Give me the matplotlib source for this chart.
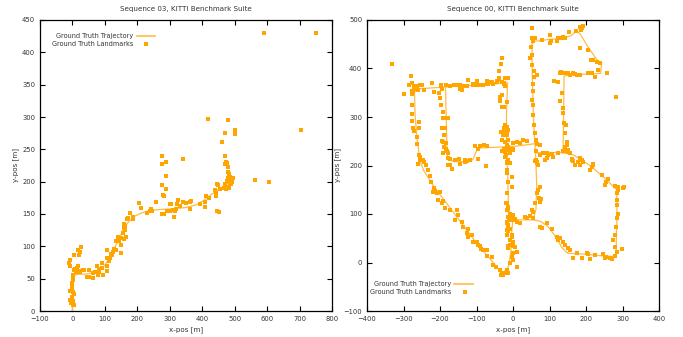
import numpy as np
import matplotlib
matplotlib.use('Agg')
import matplotlib.pyplot as plt

# --- Sequence 03: ground truth trajectory and landmarks ---
traj03 = [(0, 0), (1, 20), (2, 40), (3, 52), (8, 56), (20, 57), (40, 57), (60, 59), (80, 63),
          (95, 68), (110, 78), (125, 92), (140, 108), (152, 121), (162, 131), (175, 139),
          (190, 146), (210, 151), (235, 155), (270, 157), (310, 158), (350, 160), (380, 164),
          (405, 171), (430, 181), (455, 189), (475, 196), (490, 201)]

lm03 = [(590, 430), (751, 430), (418, 297), (478, 295), (704, 280), (500, 280), (469, 276),
        (500, 273), (460, 262), (275, 240), (471, 240), (341, 235), (287, 230), (277, 228),
        (474, 231), (471, 228), (478, 223),
        (287, 208), (277, 195), (287, 188), (279, 179), (282, 178), (564, 203), (606, 200),
        (476, 229), (478, 222), (480, 215), (483, 212), (487, 207), (490, 204), (492, 200),
        (485, 198), (480, 205), (475, 201), (470, 196), (476, 192), (488, 197), (494, 206),
        (484, 190), (472, 188), (466, 190), (455, 188), (449, 195),
        (446, 196), (438, 187), (442, 183), (442, 178), (411, 178), (422, 174), (408, 161),
        (408, 168), (394, 165), (451, 153), (446, 154),
        (365, 170), (361, 169), (350, 167), (340, 168), (325, 171), (322, 165), (330, 163),
        (318, 158), (362, 158), (304, 165), (300, 166), (291, 155), (300, 155), (309, 156),
        (316, 155), (313, 146), (282, 150), (276, 150), (256, 168), (246, 155), (242, 157),
        (240, 154), (230, 152), (210, 159), (205, 167),
        (188, 146), (186, 142), (176, 152), (172, 144), (167, 142), (160, 135), (162, 131),
        (158, 128), (163, 125), (157, 121), (165, 115), (160, 112), (151, 113), (140, 115),
        (143, 108), (135, 108), (150, 102), (149, 89), (133, 94), (128, 96), (125, 92),
        (105, 94), (118, 88), (116, 82), (108, 82), (113, 78), (122, 86),
        (92, 66), (90, 74), (105, 69), (108, 62), (95, 56), (82, 65), (75, 69), (69, 61),
        (62, 59), (50, 63), (46, 53), (51, 52), (63, 51), (78, 56), (82, 60), (36, 64),
        (31, 63), (24, 60), (14, 66), (17, 69), (8, 65), (4, 64), (20, 62), (12, 60),
        (26, 99), (18, 95), (23, 92), (21, 87), (5, 86), (-7, 79), (-10, 74), (-7, 70),
        (2, 51), (0, 44), (0, 41), (-2, 36), (2, 30), (4, 27), (-7, 31), (-8, 17), (2, 16),
        (2, 10), (5, 9), (-3, 12), (1, 56), (3, 48), (-1, 22)]

# --- Sequence 00: ground truth trajectory (pieces) and landmarks ---
traj00_pieces = [
    [(-15, 370), (-100, 366), (-180, 362), (-265, 358), (-270, 350), (-268, 300), (-262, 250),
     (-255, 210), (-245, 190), (-220, 160), (-180, 120), (-140, 80), (-100, 40), (-60, 5),
     (-35, -18), (-25, -20), (-12, -8), (-6, 20), (-4, 60), (0, 90)],
    [(-15, 370), (-18, 300), (-17, 240), (-14, 160), (-12, 110), (0, 90)],
    [(-185, 360), (-183, 300), (-181, 240), (-178, 212), (-160, 208), (-130, 208),
     (-110, 212), (-100, 230), (-90, 236), (-40, 238), (10, 240), (60, 245)],
    [(0, 90), (20, 88), (55, 88), (63, 110), (65, 160), (62, 220), (60, 245), (56, 300),
     (53, 380), (52, 450), (58, 456), (100, 460), (133, 462), (160, 468), (174, 478),
     (185, 470), (205, 445), (230, 418), (243, 412), (240, 390), (190, 388), (150, 386),
     (140, 384), (139, 330), (138, 270), (137, 226)],
    [(62, 226), (100, 227), (140, 226), (165, 222), (190, 210), (211, 200), (250, 175),
     (284, 150), (285, 100), (283, 40), (282, 12), (240, 14), (200, 17), (150, 19),
     (135, 30), (115, 55), (95, 75), (75, 85), (55, 88)],
]

lm00 = [(-331, 409), (-279, 384), (-300, 347),
        (-285, 367), (-278, 371), (-272, 363), (-264, 363), (-255, 365), (-249, 366),
        (-270, 357), (-259, 355), (-244, 356),
        (-276, 352), (-276, 347), (-276, 325), (-277, 306), (-276, 292), (-273, 277),
        (-271, 272), (-262, 258), (-258, 290), (-257, 278), (-262, 245), (-257, 222),
        (-255, 218), (-244, 208), (-278, 354), (-273, 351),
        (-223, 370), (-216, 352), (-197, 367), (-197, 363), (-195, 358), (-202, 349),
        (-200, 340), (-198, 325),
        (-191, 311), (-191, 297), (-184, 297), (-177, 297), (-186, 278), (-195, 278),
        (-191, 277), (-188, 263), (-191, 249), (-194, 251), (-183, 246), (-189, 239),
        (-183, 235), (-180, 229), (-177, 225), (-191, 225),
        (-184, 366), (-173, 363), (-163, 365), (-154, 366), (-145, 365), (-136, 363),
        (-145, 358), (-141, 355), (-122, 376), (-127, 363), (-110, 366), (-109, 369),
        (-100, 374), (-100, 366), (-90, 365), (-81, 367), (-72, 369), (-68, 369), (-65, 373),
        (-58, 373), (-54, 369), (-45, 373), (-37, 376), (-37, 380), (-31, 373), (-26, 369),
        (-33, 409), (-38, 394), (-13, 381), (-159, 367), (-99, 375), (-72, 374), (-45, 374),
        (-35, 342), (-36, 332), (-25, 321), (-31, 321), (-17, 280), (-25, 278), (-21, 270),
        (-17, 263), (-28, 263), (-13, 273),
        (-22, 249), (-17, 242), (-25, 235), (-13, 232), (-21, 228), (-8, 225), (-19, 222),
        (-13, 211), (-17, 208),
        (-104, 240), (-90, 240), (-79, 242), (-72, 240), (-95, 235),
        (-177, 216), (-173, 213), (-159, 211), (-147, 213), (-131, 211), (-127, 209),
        (-118, 212), (-95, 213),
        (51, 484), (56, 457), (51, 462), (60, 462), (80, 459), (101, 469), (103, 457),
        (101, 452), (120, 456), (124, 462), (133, 462), (138, 465), (142, 462), (153, 475),
        (172, 478), (184, 486), (188, 483), (185, 479), (193, 488), (184, 443),
        (206, 438), (215, 418), (220, 418), (229, 414), (237, 411), (234, 397), (225, 383),
        (216, 390), (206, 390), (184, 387), (175, 387), (170, 389), (164, 390), (155, 387),
        (150, 390), (141, 391), (129, 390), (131, 392), (113, 375), (124, 373), (133, 349),
        (130, 332), (138, 319), (138, 308), (140, 287), (145, 284), (143, 266), (147, 249),
        (147, 243), (142, 239), (152, 232), (155, 225), (258, 390), (282, 341),
        (48, 445), (51, 428), (47, 421), (51, 407), (58, 395), (67, 387), (58, 383),
        (56, 369), (56, 354), (53, 335), (54, 325), (56, 304), (58, 283), (60, 266),
        (63, 253), (67, 244), (74, 242),
        (-31, 421), (-22, 380), (-26, 370), (-22, 363), (-31, 346), (-17, 330),
        (-22, 284), (-26, 273), (-33, 270), (-17, 266), (-15, 253), (-31, 253),
        (1, 246), (10, 248), (19, 246), (28, 253), (37, 251), (-13, 239), (-8, 235),
        (1, 232), (-26, 232), (-31, 229), (-22, 218), (-8, 205), (1, 235),
        (63, 229), (74, 222), (63, 211), (65, 208), (92, 225), (97, 222), (106, 223),
        (110, 218), (124, 225), (138, 229), (147, 229), (152, 227), (161, 213), (165, 209),
        (184, 215), (188, 211), (193, 208), (220, 204), (92, 215), (83, 225),
        (-246, 211), (-237, 201), (-232, 191), (-227, 178), (-225, 167), (-216, 153),
        (-213, 148), (-220, 146), (-209, 143), (-200, 145), (-205, 128), (-191, 126),
        (-195, 122), (-186, 112), (-173, 108), (-154, 108), (-152, 98), (-159, 88),
        (-141, 84), (-136, 74), (-122, 70), (-125, 60), (-113, 57), (-122, 53), (-109, 43),
        (-98, 43), (-95, 36), (-90, 34), (-89, 27), (-72, 26), (-81, 26), (-70, 13),
        (-58, 12), (-55, -5), (-47, -10), (-36, -15), (-31, -22), (-28, -26), (-17, -15),
        (-13, -21), (-259, 204), (-256, 211),
        (-172, 201), (-177, 201), (-168, 193), (-145, 203), (-131, 208), (-74, 200),
        (-17, 191), (-17, 184), (-17, 143), (-17, 122), (-14, 112), (-17, 84), (-13, 77),
        (-17, 67), (-17, 57), (-13, 33),
        (-17, 205), (-15, 167), (-4, 177), (-4, 156), (-19, 122), (-13, 115), (-17, 108),
        (-8, 101), (1, 98), (-4, 94), (-15, 94), (-10, 88), (1, 88), (5, 89), (10, 84),
        (19, 82), (-17, 81), (-13, 74), (-15, 64), (-8, 70), (-4, 57), (-8, 46), (-13, 29),
        (0, 33), (5, 31), (10, 22), (0, 19), (-4, 12), (1, 5), (-8, -2), (10, -10),
        (-17, -19), (-26, -22), (-34, -26), (-4, 53), (1, 43), (-8, 36),
        (33, 94), (47, 96), (37, 91), (51, 108), (56, 105), (56, 91), (60, 122), (65, 143),
        (69, 150), (74, 156), (72, 134), (76, 130), (74, 125), (65, 205), (69, 201),
        (60, 210), (88, 211),
        (92, 81), (74, 74), (79, 72), (106, 69), (120, 53), (124, 46), (129, 50), (138, 43),
        (142, 36), (152, 29), (156, 26), (165, 9), (174, 19), (188, 9), (202, 19), (206, 18),
        (211, 7), (225, 16), (247, 18), (252, 9), (256, 11), (266, 9), (270, 7), (280, 13),
        (298, 27), (284, 22), (280, 31), (275, 46), (280, 57), (282, 74), (286, 91),
        (288, 101), (286, 119), (284, 129), (286, 143), (288, 150), (304, 156), (300, 153),
        (288, 156), (280, 157), (261, 172), (243, 180), (252, 160), (256, 165), (216, 196),
        (211, 191), (218, 201), (184, 201), (193, 208), (161, 211), (179, 208), (170, 201)]

titles = ['Sequence 03, KITTI Benchmark Suite', 'Sequence 00, KITTI Benchmark Suite']
xlims = [(-100, 800), (-400, 400)]
ylims = [(0, 450), (-100, 500)]
xticks = [np.arange(-100, 801, 100), np.arange(-400, 401, 100)]
yticks = [np.arange(0, 451, 50), np.arange(-100, 501, 100)]

orange = '#ffa500'
line_col = '#ffbb44'
txt_col = '#333333'

fig = plt.figure(figsize=(6.83, 3.37), dpi=100)
ax1 = fig.add_axes([40 / 683, 1 - 311 / 337, 292 / 683, 291 / 337])
ax2 = fig.add_axes([367 / 683, 1 - 311 / 337, 292 / 683, 291 / 337])

# trajectories
t = np.array(traj03)
ax1.plot(t[:, 0], t[:, 1], color=line_col, lw=0.9, zorder=2)
for piece in traj00_pieces:
    p = np.array(piece)
    ax2.plot(p[:, 0], p[:, 1], color=line_col, lw=0.9, zorder=2)

# landmarks
for ax, lm in zip([ax1, ax2], [lm03, lm00]):
    a = np.array(lm)
    ax.plot(a[:, 0], a[:, 1], 's', color=orange, ms=2.4, mew=0, zorder=3)

# legends (gnuplot style: text right-aligned, sample on the right)
leg_pos = [(0.318, 0.946, 0.919, 0.332, 0.394, 0.363),
           (0.290, 0.093, 0.065, 0.298, 0.364, 0.335)]
for ax, (tx, y1, y2, l0, l1, mx) in zip([ax1, ax2], leg_pos):
    ax.text(tx, y1, 'Ground Truth Trajectory', transform=ax.transAxes, ha='right',
            va='center', fontsize=4.7, color=txt_col)
    ax.text(tx, y2, 'Ground Truth Landmarks', transform=ax.transAxes, ha='right',
            va='center', fontsize=4.7, color=txt_col)
    ax.plot([l0, l1], [y1, y1], transform=ax.transAxes, color=line_col, lw=1.2)
    ax.plot([mx], [y2], 's', transform=ax.transAxes, color=orange, ms=2.4, mew=0)

for i, ax in enumerate([ax1, ax2]):
    ax.set_xlim(*xlims[i])
    ax.set_ylim(*ylims[i])
    ax.set_xticks(xticks[i])
    ax.set_yticks(yticks[i])
    ax.tick_params(direction='in', length=3.5, width=0.8, top=True, right=True,
                   labelsize=4.9, labelcolor=txt_col, pad=3.5)
    for s in ax.spines.values():
        s.set_linewidth(0.9)
    ax.set_title(titles[i], fontsize=5.1, color=txt_col, pad=6.5)
    ax.set_xlabel('x-pos [m]', fontsize=5.1, color=txt_col, labelpad=3.5)
    ax.set_ylabel('y-pos [m]', fontsize=5.1, color=txt_col, labelpad=2)

fig.savefig('out.png', dpi=100)
